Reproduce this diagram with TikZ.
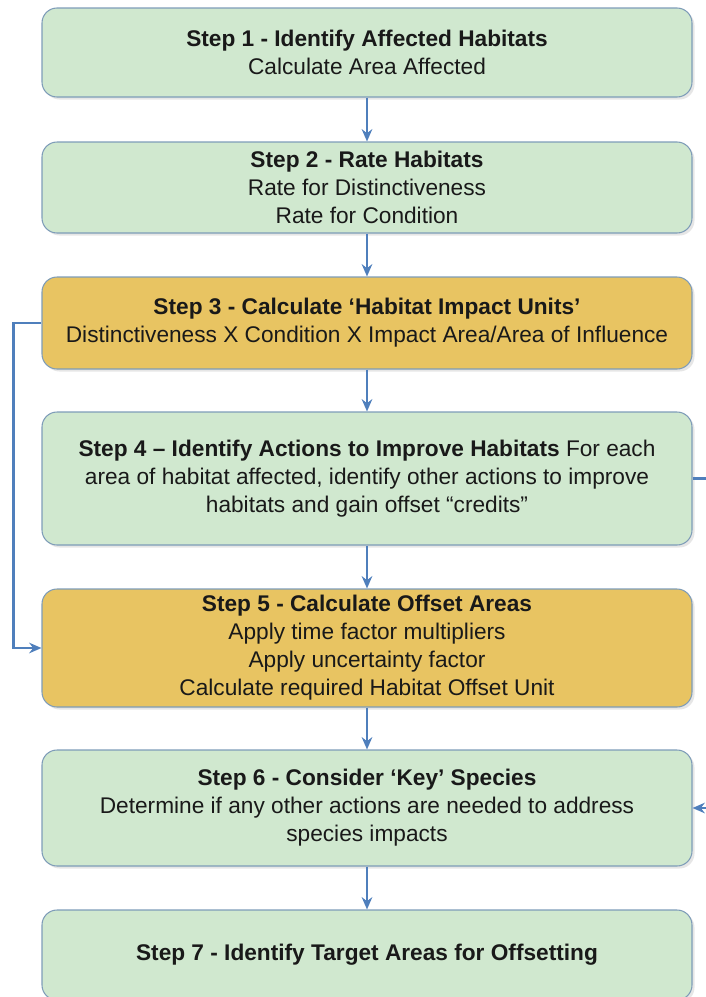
\documentclass[tikz,border=0pt]{standalone}
\usepackage{fontspec}
\setmainfont{Liberation Sans}
\usetikzlibrary{arrows.meta,shadows}
\definecolor{boxgreen}{HTML}{D0E8CF}
\definecolor{boxgold}{HTML}{E8C462}
\definecolor{boxline}{HTML}{7E9CB8}
\definecolor{flowblue}{HTML}{4F7FBC}
\tikzset{
  stepbox/.style={draw=boxline, line width=0.6pt, rounded corners=0.3cm,
    fill=boxgreen, minimum width=13cm, align=center, inner sep=2pt,
    font=\fontsize{12.9}{15.9}\selectfont, text=black!90,
    drop shadow={opacity=0.2, shadow xshift=0.05cm, shadow yshift=-0.05cm}},
  goldbox/.style={stepbox, fill=boxgold},
  flow/.style={draw=flowblue, line width=1.2pt, -{Stealth[length=7pt,width=6pt]}}
}
\begin{document}
\begin{tikzpicture}
  \useasboundingbox (0,0) rectangle (14.12,-19.94);
  \def\cx{7.34}   % centre line of the boxes
  \node[stepbox, minimum height=1.78cm] (s1) at (\cx,-1.05)
    {\textbf{Step 1 - Identify Affected Habitats}\\Calculate Area Affected};
  \node[stepbox, minimum height=1.82cm] (s2) at (\cx,-3.75)
    {\textbf{Step 2 - Rate Habitats}\\Rate for Distinctiveness\\Rate for Condition};
  \node[goldbox, minimum height=1.84cm] (s3) at (\cx,-6.46)
    {\textbf{Step 3 - Calculate ‘Habitat Impact Units’}\\Distinctiveness X Condition X Impact Area/Area of Influence};
  \node[stepbox, minimum height=2.66cm] (s4) at (\cx,-9.57)
    {\textbf{Step 4 – Identify Actions to Improve Habitats} For each\\area of habitat affected, identify other actions to improve\\habitats and gain offset “credits”};
  \node[goldbox, minimum height=2.36cm] (s5) at (\cx,-12.96)
    {\textbf{Step 5 - Calculate Offset Areas}\\Apply time factor multipliers\\Apply uncertainty factor\\Calculate required Habitat Offset Unit};
  \node[stepbox, minimum height=2.32cm] (s6) at (\cx,-16.16)
    {\textbf{Step 6 - Consider ‘Key’ Species}\\Determine if any other actions are needed to address\\species impacts};
  \node[stepbox, minimum height=1.8cm] (s7) at (\cx,-19.1)
    {\textbf{Step 7 - Identify Target Areas for Offsetting}};
  % straight steps
  \foreach \a/\b in {s1/s2,s2/s3,s3/s4,s4/s5,s5/s6,s6/s7} { \draw[flow] (\a) -- (\b); }
  % side loops
  \draw[flow] (s3.west) -- ++(-0.56,0) |- (s5.west);
  \draw[flow] (s4.east) -- ++(0.6,0) |- (s6.east);
\end{tikzpicture}
\end{document}
